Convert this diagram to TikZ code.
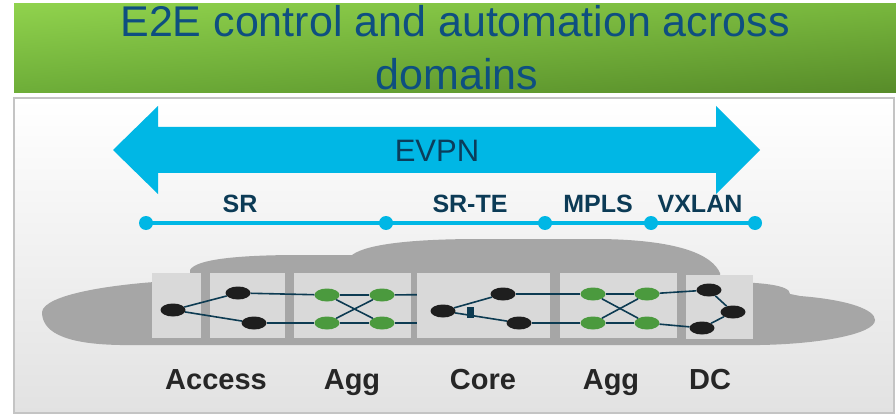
\documentclass[tikz,border=0pt]{standalone}
\usepackage{fontspec}
\setmainfont{Liberation Sans}
\usetikzlibrary{shapes.geometric,shadings}

\definecolor{titletext}{HTML}{0E4F80}
\definecolor{gUL}{HTML}{90D24D}
\definecolor{gUR}{HTML}{78B73D}
\definecolor{gLL}{HTML}{6DAD38}
\definecolor{gLR}{HTML}{578B29}
\definecolor{panelline}{HTML}{C4C4C4}
\definecolor{panelbot}{HTML}{E2E2E2}
\definecolor{evpncyan}{HTML}{00B7E5}
\definecolor{evpntext}{HTML}{0B3D5B}
\definecolor{labelnavy}{HTML}{0C3B56}
\definecolor{cloudgray}{HTML}{A6A6A6}
\definecolor{boxgray}{HTML}{D9D9D9}
\definecolor{nodeblack}{HTML}{1E1E1E}
\definecolor{nodegreen}{HTML}{4B9A3E}
\definecolor{linknavy}{HTML}{0D3B52}
\definecolor{zonetext}{HTML}{262626}

\pgfdeclarelayer{back}
\pgfdeclarelayer{cloud}
\pgfdeclarelayer{hidden}
\pgfdeclarelayer{panels}
\pgfsetlayers{back,cloud,hidden,panels,main}

\begin{document}
\begin{tikzpicture}[x=1pt,y=-1pt,
  hub/.style={ellipse, minimum width=25pt, minimum height=13pt, inner sep=0pt, fill=nodeblack},
  aggn/.style={hub, fill=nodegreen},
  link/.style={draw=linknavy, line width=1.6pt},
  domainbox/.style={fill=boxgray},
  tag/.style={font=\bfseries\fontsize{25}{30}\selectfont, text=labelnavy, anchor=base},
  zone/.style={font=\bfseries\fontsize{29}{34}\selectfont, text=zonetext, anchor=base},
  waypoint/.style={circle, fill=evpncyan, minimum size=14pt, inner sep=0pt}]
\useasboundingbox (0,0) rectangle (896,414);

% title band and panel background
\begin{pgfonlayer}{back}
\shade[upper left=gUL, upper right=gUR, lower left=gLL, lower right=gLR] (14,4) rectangle (896,93);
\shade[top color=white, bottom color=panelbot, draw=panelline, line width=1.5pt] (14,98) rectangle (894,413);
\end{pgfonlayer}
\node[text=titletext, font=\fontsize{43}{53}\selectfont, anchor=base] (title1) at (455,37) {E2E control and automation across};
\node[text=titletext, font=\fontsize{43}{53}\selectfont, anchor=base] (title2) at (457,90) {domains};

% EVPN double arrow
\fill[evpncyan] (113,150) -- (158,106) -- (158,127) -- (716,127) -- (716,106) -- (760,150)
  -- (716,194) -- (716,173) -- (158,173) -- (158,194) -- cycle;
\node[text=evpntext, font=\fontsize{31}{36}\selectfont, anchor=base] (evpn) at (437,162) {EVPN};

% transport segments
\node[tag] (sr) at (240,212) {SR};
\node[tag] (srte) at (470,212) {SR-TE};
\node[tag] (mpls) at (598,212) {MPLS};
\node[tag] (vxlan) at (700,212) {VXLAN};
\coordinate (w1) at (146,223);
\coordinate (w2) at (386,223);
\coordinate (w3) at (545,223);
\coordinate (w4) at (651,223);
\coordinate (w5) at (755,223);
\draw[evpncyan, line width=3.5pt] (w1) -- (w5);
\foreach \w in {w1,w2,w3,w4,w5} \node[waypoint] at (\w) {};

% cloud and the first domain boxes
\begin{pgfonlayer}{cloud}
\fill[cloudgray] (42,312) .. controls (44,295) and (110,283) .. (190,280)
  -- (190,270) .. controls (196,259) and (240,255) .. (300,255)
  -- (352,255) .. controls (368,243) and (420,239) .. (480,239)
  -- (600,239) .. controls (680,240) and (712,255) .. (720,273)
  -- (720,282) .. controls (762,282) and (790,285) .. (790,294)
  -- (800,296) .. controls (850,300) and (875,310) .. (875,320)
  .. controls (875,334) and (820,344) .. (760,345)
  -- (120,345) .. controls (60,344) and (42,330) .. (42,312) -- cycle;
\fill[domainbox] (152,273) rectangle (201,338);
\fill[domainbox] (210,273) rectangle (285,338);
\fill[domainbox] (294,273) rectangle (411,338);
\end{pgfonlayer}
\begin{pgfonlayer}{panels}
\fill[domainbox] (417,273) rectangle (550,338);
\fill[domainbox] (560,273) rectangle (677,338);
\fill[domainbox] (686,275) rectangle (753,339);
\end{pgfonlayer}

% access
\node[hub] (a1) at (173,310) {};
\node[hub] (a2) at (238,293) {};
\node[hub] (a3) at (254,323) {};
% aggregation (west)
\node[aggn] (g1) at (327,295) {};
\node[aggn] (g2) at (382,295) {};
\node[aggn] (g3) at (327,323) {};
\node[aggn] (g4) at (382,323) {};
% core
\node[hub] (c1) at (443,311) {};
\node[hub] (c2) at (503,294) {};
\node[hub] (c3) at (519,323) {};
\node[fill=linknavy, minimum width=7pt, minimum height=11pt, inner sep=0pt] (stub) at (470,312) {};
% aggregation (east)
\node[aggn] (h1) at (593,294) {};
\node[aggn] (h2) at (647,294) {};
\node[aggn] (h3) at (593,323) {};
\node[aggn] (h4) at (647,323) {};
% data centre
\node[hub] (d1) at (709,290) {};
\node[hub] (d2) at (733,312) {};
\node[hub] (d3) at (702,328) {};

\begin{pgfonlayer}{hidden}
\draw[link] (g2) -- (c2);
\draw[link] (g4) -- (c3);
\end{pgfonlayer}

\draw[link] (a1) -- (a2);
\draw[link] (a1) -- (a3);
\draw[link] (a2) -- (g1);
\draw[link] (a3) -- (g3);
\draw[link] (g1) -- (g2);
\draw[link] (g3) -- (g4);
\draw[link] (g1) -- (g4);
\draw[link] (g3) -- (g2);
\draw[link] (c1) -- (c2);
\draw[link] (c1) -- (c3);
\draw[link] (c2) -- (h1);
\draw[link] (c3) -- (h3);
\draw[link] (h1) -- (h2);
\draw[link] (h3) -- (h4);
\draw[link] (h1) -- (h4);
\draw[link] (h3) -- (h2);
\draw[link] (h2) -- (d1);
\draw[link] (h4) -- (d3);
\draw[link] (d1) -- (d2);
\draw[link] (d2) -- (d3);

% domain names
\node[zone] (access) at (216,389) {Access};
\node[zone] (aggw) at (352,389) {Agg};
\node[zone] (core) at (483,389) {Core};
\node[zone] (agge) at (611,389) {Agg};
\node[zone] (dc) at (710,389) {DC};
\end{tikzpicture}
\end{document}
